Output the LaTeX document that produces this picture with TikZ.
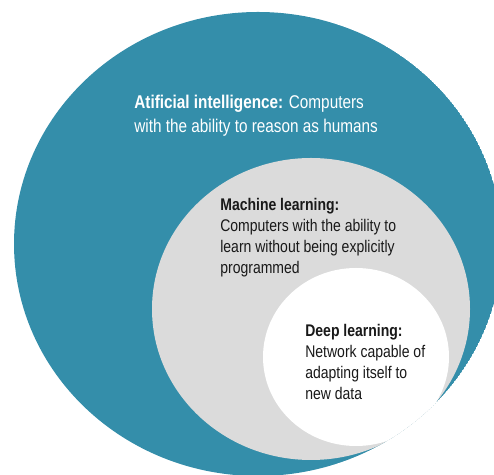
\documentclass[tikz,border=0pt]{standalone}
\usepackage{fontspec}
\setmainfont{Liberation Sans}[FakeStretch=0.83]
\usetikzlibrary{shapes,backgrounds}

\definecolor{aiteal}{RGB}{52,142,170}
\definecolor{mlgray}{RGB}{219,219,219}
\definecolor{inkdark}{RGB}{25,25,25}

\begin{document}
\begin{tikzpicture}[x=0.02cm, y=-0.02cm,
    note/.style={anchor=base west, inner sep=0pt, align=left},
    big note/.style={note, font=\fontsize{10.5}{13.7}\selectfont},
    small note/.style={note, font=\fontsize{9.6}{12.1}\selectfont, text=inkdark}]

\useasboundingbox (0,0) rectangle (494,475);

\coordinate (AI) at (258,244);
\coordinate (ML) at (311,309);
\coordinate (DL) at (356,357);

\begin{scope}
\clip (AI) ellipse [x radius=244, y radius=232];
% Set AI
\fill [aiteal] (AI) ellipse [x radius=244, y radius=232];
% Set ML
\fill [mlgray] (ML) ellipse [x radius=159, y radius=151];
% Set DL
\fill [white] (DL) ellipse [x radius=93, y radius=89];
\end{scope}

% Set labels (placed by their last line)
\node [big note, text=white] (AI text) at (134,133)
    {\textbf{Atificial intelligence:} Computers\\with the ability to reason as humans};

\node [small note] (ML text) at (220,274)
    {\textbf{Machine learning:}\\Computers with the ability to\\learn without being explicitly\\programmed};

\node [small note] (DL text) at (305,400)
    {\textbf{Deep learning:}\\Network capable of\\adapting itself to\\new data};

\end{tikzpicture}
\end{document}
